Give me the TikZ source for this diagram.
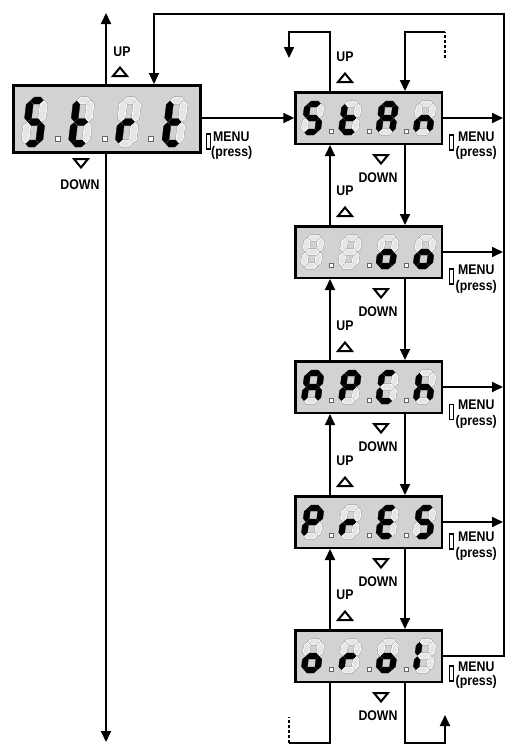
\documentclass[tikz,border=0pt]{standalone}
\usepackage{fontspec}
\newfontfamily\labfont[FakeStretch=0.88]{Liberation Sans}
\usetikzlibrary{arrows.meta}
% seven-segment helpers
\newcommand\hseg[4]{\path[#4] ({#1+\dG},{#3}) -- ({#1+\dG+\dT/2},{#3+\dT/2}) -- ({#2-\dG-\dT/2},{#3+\dT/2}) -- ({#2-\dG},{#3}) -- ({#2-\dG-\dT/2},{#3-\dT/2}) -- ({#1+\dG+\dT/2},{#3-\dT/2}) -- cycle;}
\newcommand\vseg[4]{\path[#4] ({#1},{#2+\dG}) -- ({#1+\dT/2},{#2+\dG+\dT/2}) -- ({#1+\dT/2},{#3-\dG-\dT/2}) -- ({#1},{#3-\dG}) -- ({#1-\dT/2},{#3-\dG-\dT/2}) -- ({#1-\dT/2},{#2+\dG+\dT/2}) -- cycle;}
\newcommand\digit[9]{\begin{scope}[shift={({#1},{#2})},xslant=\dSl,yscale=-1]
\hseg{0}{\dW}{\dH}{#3}
\vseg{\dW}{\dH/2}{\dH}{#4}
\vseg{\dW}{0}{\dH/2}{#5}
\hseg{0}{\dW}{0}{#6}
\vseg{0}{0}{\dH/2}{#7}
\vseg{0}{\dH/2}{\dH}{#8}
\hseg{0}{\dW}{\dH/2}{#9}
\end{scope}}
% letters: a b c d e f g
\newcommand\sgS[2]{\digit{#1}{#2}{sy}{sn}{sy}{sy}{sn}{sy}{sy}}
\newcommand\sgt[2]{\digit{#1}{#2}{sn}{sn}{sn}{sy}{sy}{sy}{sy}}
\newcommand\sgr[2]{\digit{#1}{#2}{sn}{sn}{sn}{sn}{sy}{sn}{sy}}
\newcommand\sgA[2]{\digit{#1}{#2}{sy}{sy}{sy}{sn}{sy}{sy}{sy}}
\newcommand\sgn[2]{\digit{#1}{#2}{sn}{sn}{sy}{sn}{sy}{sn}{sy}}
\newcommand\sgo[2]{\digit{#1}{#2}{sn}{sn}{sy}{sy}{sy}{sn}{sy}}
\newcommand\sgP[2]{\digit{#1}{#2}{sy}{sy}{sn}{sn}{sy}{sy}{sy}}
\newcommand\sgC[2]{\digit{#1}{#2}{sy}{sn}{sn}{sy}{sy}{sy}{sn}}
\newcommand\sgh[2]{\digit{#1}{#2}{sn}{sn}{sy}{sn}{sy}{sy}{sy}}
\newcommand\sgE[2]{\digit{#1}{#2}{sy}{sn}{sn}{sy}{sy}{sy}{sy}}
\newcommand\sgl[2]{\digit{#1}{#2}{sn}{sn}{sn}{sn}{sy}{sy}{sn}}
\newcommand\sgx[2]{\digit{#1}{#2}{sn}{sn}{sn}{sn}{sn}{sn}{sn}}
\newcommand\srow[5]{%
 \def\dW{13.5}\def\dH{28}\def\dT{6}\def\dG{0.4}\def\dSl{0.13}%
 #2{304}{#1+41} #3{341.3}{#1+41} #4{378.6}{#1+41} #5{415.9}{#1+41}
 \foreach \xx in {331.5,368.8,406.1} {\path[dpt] ({\xx-2},{#1+38}) rectangle ({\xx+2},{#1+42});}
}
\newcommand\brow[4]{%
 \def\dW{14}\def\dH{43}\def\dT{7}\def\dG{0.5}\def\dSl{0.12}%
 #1{25}{143.5} #2{71.7}{143.5} #3{118.4}{143.5} #4{165.1}{143.5}
 \foreach \xx in {57.7,104.4,151.1} {\path[dpt] ({\xx-2.5},136.2) rectangle ({\xx+2.5},141.2);}
}
\newcommand\tup[2]{\draw[tri] ({#1-7},{#2+4}) -- ({#1+7},{#2+4}) -- ({#1},{#2-4.5}) -- cycle;}
\newcommand\tdn[2]{\draw[tri] ({#1-7},{#2-4}) -- ({#1+7},{#2-4}) -- ({#1},{#2+4.5}) -- cycle;}
\begin{document}
\begin{tikzpicture}[x=1pt,y=-1pt,
  conn/.style={line width=1.8pt, line join=miter},
  arr/.style={conn,-{Triangle[length=11pt,width=10pt]}},
  dispbox/.style={draw, line width=2.5pt, fill=gray!35, inner sep=0pt},
  sbox/.style={dispbox, minimum width=146.5pt, minimum height=51.5pt},
  lab/.style={font=\labfont\bfseries\fontsize{14}{15}\selectfont, inner sep=0pt},
  tri/.style={draw, line width=2pt, fill=white, line join=miter},
  menurect/.style={draw, line width=1.2pt, fill=white, inner sep=0pt, minimum width=3.8pt, minimum height=15pt},
  sy/.style={fill=black, draw=black, line width=0.3pt},
  sn/.style={preaction={draw=black!45, line width=1.6pt}, fill=gray!20, draw=white, line width=0.8pt},
  dpt/.style={fill=white, draw=black!60, line width=0.5pt}]
\fill[white] (0,0) rectangle (509,753);
\useasboundingbox (0,0) rectangle (509,753);

% display boxes
\node[dispbox, line width=3pt, minimum width=187pt, minimum height=67pt] (L) at (107,119) {};
\node[sbox] (b1) at (368.8,118) {};
\node[sbox] (b2) at (368.8,252) {};
\node[sbox] (b3) at (368.8,387) {};
\node[sbox] (b4) at (368.8,522) {};
\node[sbox] (b5) at (368.8,656) {};

% helper coordinates
\coordinate (xL) at (106,0);
\coordinate (xT) at (154,0);
\coordinate (xU) at (330,0);
\coordinate (xD) at (405,0);
\coordinate (xR) at (504,0);
\coordinate (xA) at (503,0);
\coordinate (xLL) at (289,0);
\coordinate (xLR) at (445,0);
\coordinate (yTop) at (0,14);
\coordinate (yLoop) at (0,32);
\coordinate (yBot) at (0,743);
\coordinate (topTip) at (106,13);
\coordinate (botTip) at (106,742);
\coordinate (loopLtip) at (289,58);
\coordinate (dashTop) at (445,58);
\coordinate (dashBot) at (289,717);
\coordinate (loopRtip) at (445,715);

% connectors
\draw[arr] (L.north -| xL) -- (topTip);
\draw[arr] (L.south -| xL) -- (botTip);
\draw[arr] (b1.west -| L.east) -- (b1.west);
\foreach \i in {1,2,3,4} {\draw[arr] (b\i.east) -- (b\i.east -| xA);}
\draw[arr] (b5.east) -- (b5.east -| xR) -- (xR |- yTop) -- (xT |- yTop) -- (L.north -| xT);
\foreach \i/\j in {1/2,2/3,3/4,4/5} {
  \draw[arr] (b\i.south -| xD) -- (b\j.north -| xD);
  \draw[arr] (b\j.north -| xU) -- (b\i.south -| xU);
}
\draw[arr] (b1.north -| xU) -- (xU |- yLoop) -- (xLL |- yLoop) -- (loopLtip);
\draw[arr] (xLR |- yLoop) -- (xD |- yLoop) -- (b1.north -| xD);
\draw[conn, dash pattern=on 3pt off 2pt] (dashTop) -- (xLR |- yLoop);
\draw[conn] (b5.south -| xU) -- (xU |- yBot) -- (xLL |- yBot);
\draw[conn, dash pattern=on 3pt off 2pt] (xLL |- yBot) -- (dashBot);
\draw[arr] (b5.south -| xD) -- (xD |- yBot) -- (xLR |- yBot) -- (loopRtip);

% digits
\brow{\sgS}{\sgt}{\sgr}{\sgt}
\srow{91}{\sgS}{\sgt}{\sgA}{\sgn}
\srow{225}{\sgx}{\sgx}{\sgo}{\sgo}
\srow{360}{\sgA}{\sgP}{\sgC}{\sgh}
\srow{495}{\sgP}{\sgr}{\sgE}{\sgS}
\srow{629}{\sgo}{\sgr}{\sgo}{\sgl}

% left labels
\node[lab] (upL) at (122,52) {UP};
\tup{120}{72}
\tdn{81}{163}
\node[lab] (dnL) at (80,185) {DOWN};
\node[menurect] (mL) at (208.5,141.5) {};
\node[lab, anchor=west] (mLt) at (213,137) {MENU};
\node[lab, anchor=west] (mLp) at (211,153) {(press)};

% right labels
\foreach \t/\b [count=\k] in {91/145,225/279,360/414,495/549,629/683} {
  \node[lab] (up\k) at (345,\t-34) {UP};
  \tup{345}{\t-13}
  \tdn{381}{\b+14}
  \node[lab] (dn\k) at (378,\b+33) {DOWN};
}
\foreach \r/\m/\p [count=\k] in {142.5/137/153,276.5/270/287,412/405/422,541.5/537/554,673.5/667/682} {
  \node[menurect] (mr\k) at (451.5,\r) {};
  \node[lab, anchor=west] (mt\k) at (458,\m) {MENU};
  \node[lab, anchor=west] (mp\k) at (455.5,\p) {(press)};
}
\end{tikzpicture}
\end{document}
